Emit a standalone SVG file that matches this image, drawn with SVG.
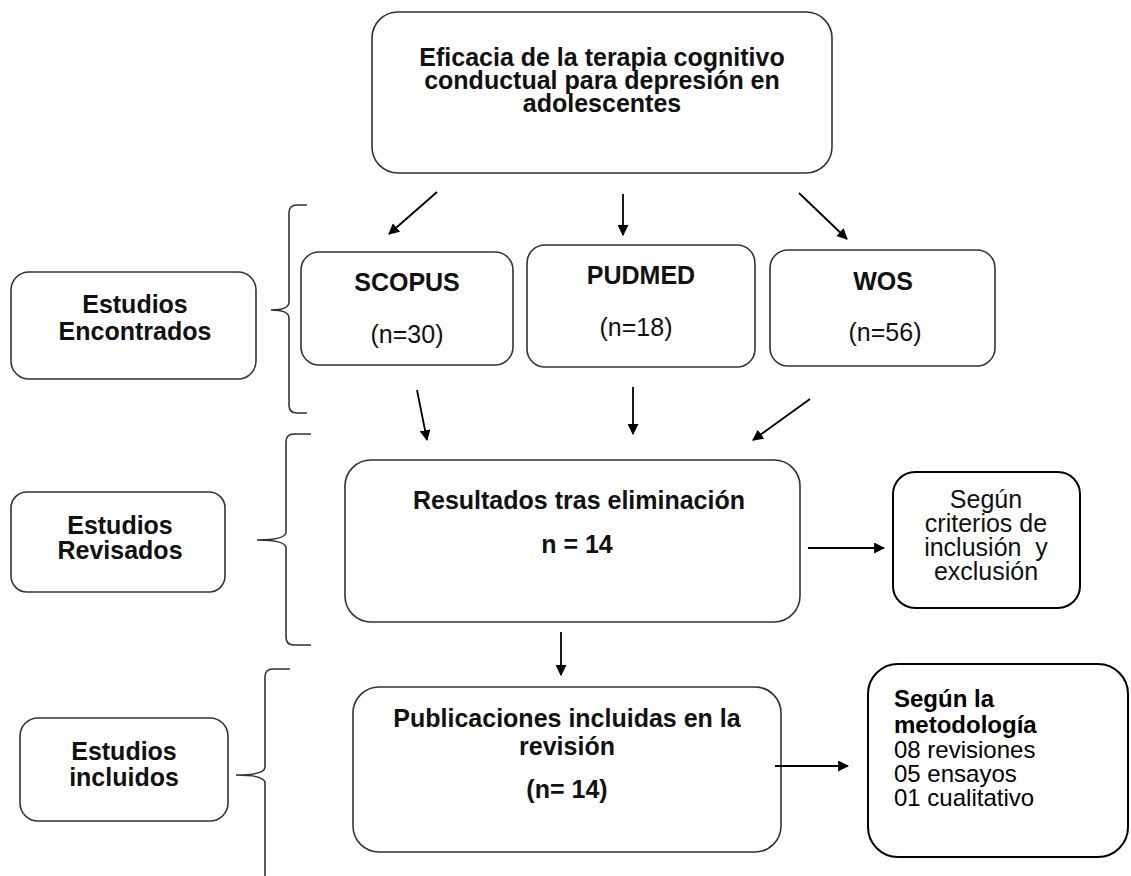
<svg xmlns="http://www.w3.org/2000/svg" width="1131" height="876" viewBox="0 0 1131 876">
<defs>
<marker id="ah" viewBox="0 0 10 10" refX="9" refY="5" markerWidth="11" markerHeight="11" markerUnits="userSpaceOnUse" orient="auto">
<path d="M0,0 L10,5 L0,10 z" fill="#000"/>
</marker>
<style>
.box{fill:#fff;stroke:#333;stroke-width:1.6}
.box2{fill:#fff;stroke:#000;stroke-width:2}
.t{font-family:"Liberation Sans",Arial,sans-serif;font-size:25px;fill:#111;text-anchor:middle}
.b{font-weight:bold}
.tl{font-family:"Liberation Sans",Arial,sans-serif;font-size:24px;fill:#000;text-anchor:start}
.c{fill:none;stroke:#000;stroke-width:1.8;marker-end:url(#ah)}
.br{fill:none;stroke:#333;stroke-width:1.6}
</style>
</defs>
<rect width="1131" height="876" fill="#fff"/>
<g id="n-title">
<rect class="box" x="372" y="12" width="460" height="161" rx="26"/>
<text class="t b" x="602" y="66">Eficacia de la terapia cognitivo</text>
<text class="t b" x="602" y="89">conductual para depresión en</text>
<text class="t b" x="602" y="112">adolescentes</text>
</g>
<g id="n-encontrados">
<rect class="box" x="11" y="272" width="245" height="107" rx="18"/>
<text class="t b" x="135" y="313">Estudios</text>
<text class="t b" x="135" y="340">Encontrados</text>
</g>
<g id="n-scopus">
<rect class="box" x="301" y="252" width="212" height="113" rx="18"/>
<text class="t b" x="407" y="291">SCOPUS</text>
<text class="t" x="407" y="343">(n=30)</text>
</g>
<g id="n-pudmed">
<rect class="box" x="527" y="245" width="228" height="122" rx="18"/>
<text class="t b" x="641" y="284">PUDMED</text>
<text class="t" x="636" y="336">(n=18)</text>
</g>
<g id="n-wos">
<rect class="box" x="770" y="250" width="225" height="116" rx="18"/>
<text class="t b" x="883" y="290">WOS</text>
<text class="t" x="885" y="341">(n=56)</text>
</g>
<g id="n-revisados">
<rect class="box" x="11" y="492" width="214" height="100" rx="16"/>
<text class="t b" x="120" y="534">Estudios</text>
<text class="t b" x="120" y="559">Revisados</text>
</g>
<g id="n-resultados">
<rect class="box" x="345" y="460" width="455" height="162" rx="26"/>
<text class="t b" x="579" y="509">Resultados tras eliminación</text>
<text class="t b" x="577" y="553">n = 14</text>
</g>
<g id="n-criterios">
<rect class="box2" x="893" y="472" width="187" height="136" rx="22"/>
<text class="t" x="986" y="508">Según</text>
<text class="t" x="986" y="532">criterios de</text>
<text class="t" x="986" y="556" style="white-space:pre">inclusión  y</text>
<text class="t" x="986" y="580">exclusión</text>
</g>
<g id="n-incluidos">
<rect class="box" x="20" y="718" width="208" height="103" rx="18"/>
<text class="t b" x="124" y="760">Estudios</text>
<text class="t b" x="124" y="786">incluidos</text>
</g>
<g id="n-publicaciones">
<rect class="box" x="353" y="687" width="428" height="165" rx="26"/>
<text class="t b" x="567" y="727">Publicaciones incluidas en la</text>
<text class="t b" x="567" y="755">revisión</text>
<text class="t b" x="567" y="798">(n= 14)</text>
</g>
<g id="n-metodologia">
<rect class="box2" x="868" y="664" width="260" height="193" rx="30"/>
<text class="tl b" x="894" y="707">Según la</text>
<text class="tl b" x="894" y="733">metodología</text>
<text class="tl" x="894" y="758">08 revisiones</text>
<text class="tl" x="894" y="782">05 ensayos</text>
<text class="tl" x="894" y="806">01 cualitativo</text>
</g>
<g id="brackets">
<path class="br" d="M307,205 L297,205 Q289,205 289,213 L289,302 Q289,310 271,310 Q289,310 289,318 L289,405 Q289,413 297,413 L307,413"/>
<path class="br" d="M311,434 L294,434 Q286,434 286,442 L286,532 Q286,540 257,540 Q286,540 286,548 L286,637 Q286,645 294,645 L311,645"/>
<path class="br" d="M290,669 L273,669 Q265,669 265,677 L265,767 Q265,775 236,775 Q265,775 265,783 L265,876"/>
</g>
<g id="connectors">
<line class="c" x1="437" y1="192" x2="389" y2="234"/>
<line class="c" x1="623" y1="194" x2="623" y2="235"/>
<line class="c" x1="799" y1="193" x2="847" y2="239"/>
<line class="c" x1="417" y1="390" x2="427" y2="440"/>
<line class="c" x1="633" y1="387" x2="633" y2="434"/>
<line class="c" x1="810" y1="399" x2="753" y2="440"/>
<line class="c" x1="808" y1="548" x2="884" y2="548"/>
<line class="c" x1="561" y1="632" x2="561" y2="675"/>
<line class="c" x1="775" y1="766" x2="848" y2="766"/>
</g>
</svg>
